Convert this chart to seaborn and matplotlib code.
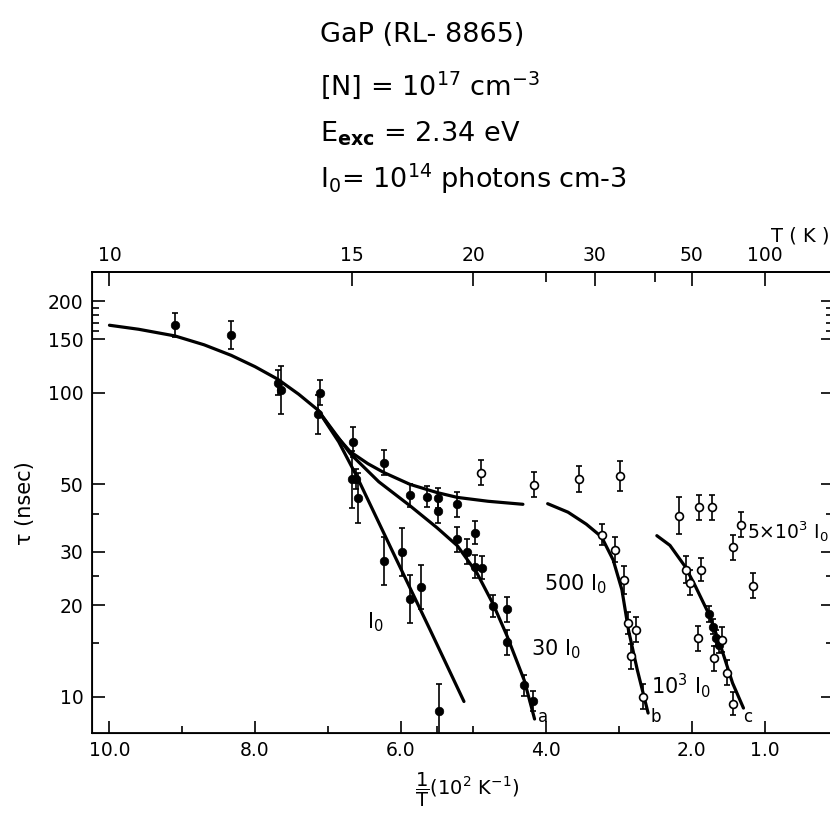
import matplotlib
matplotlib.use("Agg")
import matplotlib.pyplot as plt
import seaborn as sns
import pandas as pd

# measured points: 1/T (10^2 K^-1), tau (nsec), error bar as a log factor
filled_x = [9.10, 8.33, 7.69, 7.65, 7.11, 7.14, 6.66, 6.67, 6.61, 6.59, 6.23, 6.23,
            5.98, 5.87, 5.72, 5.47, 5.87, 5.64, 5.49, 5.49, 5.22, 5.23, 5.09, 4.98,
            4.98, 4.88, 4.73, 4.54, 4.54, 4.30, 4.18, 1.76, 1.71, 1.67, 1.62]
filled_y = [167, 155, 108, 102, 100, 85, 69, 52, 52, 45, 59, 28,
            30, 21, 23, 9.0, 46, 45.6, 45, 41, 43, 33, 30, 34.7,
            26.8, 26.6, 19.9, 19.4, 15.1, 10.9, 9.7, 18.7, 17.0, 15.6, 14.8]
filled_err = [1.095, 1.11, 1.10, 1.20, 1.10, 1.16, 1.12, 1.24, 1.08, 1.21, 1.10, 1.20,
              1.20, 1.20, 1.18, 1.22, 1.09, 1.08, 1.08, 1.10, 1.10, 1.10, 1.10, 1.09,
              1.09, 1.09, 1.09, 1.10, 1.10, 1.08, 1.08, 1.06, 1.06, 1.06, 1.06]

open_x = [4.89, 4.17, 3.55, 2.98, 3.24, 3.06, 2.93, 2.88, 2.76, 2.83, 2.67,
          2.18, 1.90, 1.72, 1.32, 1.43, 1.16, 2.08, 2.02, 1.87, 1.91, 1.69,
          1.59, 1.51, 1.43]
open_y = [54.6, 49.9, 52.1, 53.3, 34.2, 30.5, 24.2, 17.5, 16.6, 13.6, 10.0,
          39.4, 42.1, 42.1, 36.8, 31.0, 23.2, 26.2, 23.7, 26.2, 15.6, 13.4,
          15.4, 12.0, 9.5]
open_err = [1.10, 1.10, 1.10, 1.12, 1.08, 1.10, 1.11, 1.09, 1.10, 1.10, 1.10,
            1.15, 1.10, 1.10, 1.10, 1.10, 1.10, 1.11, 1.10, 1.09, 1.10, 1.10,
            1.10, 1.10, 1.09]

# fitted curves
main_x = [10.0, 9.6, 9.1, 8.7, 8.33, 8.0, 7.69, 7.4, 7.14]
main_y = [167, 162, 154, 144, 133, 122, 111, 99, 88]
flat_x = [7.14, 6.9, 6.69, 6.45, 6.23, 5.87, 5.5, 5.22, 4.8, 4.32]
flat_y = [88, 73, 64, 58.5, 54.7, 50, 47, 45.3, 44, 43]
i0_x = [7.14, 6.85, 6.60, 6.10, 5.60, 5.13]
i0_y = [88, 69, 53, 29.7, 16.7, 9.65]
i30_x = [7.14, 6.69, 6.3, 5.87, 5.5, 5.22, 4.95, 4.73, 4.54, 4.30, 4.16]
i30_y = [88, 63, 51, 42.5, 36, 31.4, 25.5, 20.2, 15.9, 11.3, 8.45]
i500_x = [3.98, 3.7, 3.45, 3.24, 3.08, 2.96, 2.87, 2.75, 2.60]
i500_y = [43.2, 40.5, 37, 33.6, 28.2, 22.5, 16.6, 12.3, 8.84]
i1000_x = [2.48, 2.3, 2.09, 1.95, 1.76, 1.60, 1.44, 1.29]
i1000_y = [33.9, 31.5, 26.8, 23.1, 18.6, 14.6, 11.1, 9.18]

bottom_major = [10.0, 8.0, 6.0, 4.0, 2.0, 1.0]
bottom_minor = [9.0, 7.0, 5.5, 5.0, 3.0]
y_major = [10, 20, 30, 50, 100, 150, 200]
y_minor = [15, 25, 40, 160, 170, 180, 190]
top_T = [10, 15, 20, 30, 50, 100]
top_T_minor = [25, 40]

sns.set_style("ticks")
plt.rcParams["font.family"] = ["DejaVu Sans"]
plt.rcParams["mathtext.default"] = "regular"
for k in ["text.color", "axes.labelcolor", "xtick.color", "ytick.color", "axes.edgecolor"]:
    plt.rcParams[k] = "black"

fig = plt.figure(figsize=(8.3, 8.15), dpi=100)
ax = fig.add_axes([92 / 830, 1 - 733 / 815, (833 - 92) / 830, (733 - 272) / 815])

fill_df = pd.DataFrame({"x": filled_x, "y": filled_y, "e": filled_err})
open_df = pd.DataFrame({"x": open_x, "y": open_y, "e": open_err})

for df in [fill_df, open_df]:
    ax.errorbar(df["x"], df["y"],
                yerr=[df["y"] - df["y"] / df["e"], df["y"] * df["e"] - df["y"]],
                fmt="none", ecolor="black", elinewidth=1.2, capsize=2.5, capthick=1.2,
                zorder=2)
sns.scatterplot(data=fill_df, x="x", y="y", ax=ax, color="black", s=38,
                edgecolor="black", zorder=3)
sns.scatterplot(data=open_df, x="x", y="y", ax=ax, facecolor="white", s=32,
                edgecolor="black", linewidth=1.2, zorder=3)

for cx, cy in [(main_x, main_y), (flat_x, flat_y), (i0_x, i0_y), (i30_x, i30_y),
               (i500_x, i500_y), (i1000_x, i1000_y)]:
    sns.lineplot(x=cx, y=cy, ax=ax, color="black", lw=2.3, sort=False,
                 estimator=None, zorder=2)

ax.set_yscale("log")
ax.set_xlim(10.24, 0.06)
ax.set_ylim(7.6, 250)
ax.set_xlabel("")
ax.set_ylabel("")

ax.set_xticks(bottom_major)
ax.set_xticklabels([f"{v:.1f}" for v in bottom_major])
ax.set_xticks(bottom_minor, minor=True)
ax.set_yticks(y_major)
ax.set_yticklabels([str(v) for v in y_major])
ax.set_yticks(y_minor, minor=True)
ax.yaxis.set_minor_formatter(matplotlib.ticker.NullFormatter())
ax.tick_params(which="both", direction="in", labelsize=13.5, width=1.2,
               right=True, top=False, pad=6)
ax.tick_params(which="major", length=9)
ax.tick_params(which="minor", length=5)
for sp in ax.spines.values():
    sp.set_linewidth(1.3)

top = ax.twiny()
top.set_xlim(ax.get_xlim())
top.set_xticks([100 / t for t in top_T])
top.set_xticklabels([str(t) for t in top_T])
top.set_xticks([100 / t for t in top_T_minor], minor=True)
top.tick_params(which="both", direction="in", labelsize=13.5, width=1.2, pad=5)
top.tick_params(which="major", length=10)
top.tick_params(which="minor", length=7)
top.spines["top"].set_linewidth(1.3)
fig.text(800 / 830, 1 - 236 / 815, "T ( K )", fontsize=14, ha="center", va="center")

fig.text(467 / 830, 1 - 790 / 815, r"$\dfrac{1}{T}$(10$^2$ K$^{-1}$)", fontsize=14,
         ha="center", va="center")
fig.text(25 / 830, 1 - 503 / 815, "\u03c4 (nsec)", fontsize=15, rotation=90,
         ha="center", va="center")

# curve labels
ax.text(6.35, 17.6, "I$_0$", fontsize=15, ha="center", va="center")
ax.text(3.86, 14.3, "30 I$_0$", fontsize=15, ha="center", va="center")
ax.text(3.60, 23.4, "500 I$_0$", fontsize=15, ha="center", va="center")
ax.text(2.15, 10.9, "10$^3$ I$_0$", fontsize=15, ha="center", va="center")
ax.text(1.24, 35.0, "5\u00d710$^3$ I$_0$", fontsize=13.5, ha="left", va="center")
for lbl, lx in [("a", 4.05), ("b", 2.49), ("c", 1.23)]:
    ax.text(lx, 8.6, lbl, fontsize=12, ha="center", va="center")

# sample description
x0 = 320 / 830
fig.text(x0, 1 - 42 / 815, "GaP (RL- 8865)", fontsize=19.5, va="baseline")
fig.text(x0, 1 - 95 / 815, "[N] = 10$^{17}$ cm$^{-3}$", fontsize=19.5, va="baseline")
fig.text(x0, 1 - 142 / 815, r"E$_{\mathbf{exc}}$ = 2.34 eV", fontsize=19.5, va="baseline")
fig.text(x0, 1 - 188 / 815, "I$_0$= 10$^{14}$ photons cm-3", fontsize=19.5, va="baseline")

fig.savefig("out.png", dpi=100)
